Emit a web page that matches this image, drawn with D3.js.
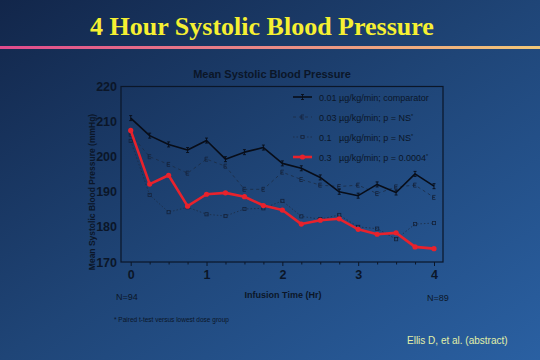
<!DOCTYPE html>
<html><head><meta charset="utf-8">
<script src="https://cdn.jsdelivr.net/npm/d3@7"></script>
<style>html,body{margin:0;padding:0;overflow:hidden;}svg{display:block;}</style>
</head><body>
<script>
const times = [0, 0.25, 0.5, 0.75, 1, 1.25, 1.5, 1.75, 2, 2.25, 2.5, 2.75, 3, 3.25, 3.5, 3.75, 4];
const comparator = [211, 206, 203.5, 201.9, 204.6, 199.3, 201.3, 202.6, 198.1, 196.7, 194.1, 190, 188.9, 192.1, 189.8, 195.1, 191.6];
const dose003 = [206.3, 200, 197.8, 195.3, 199.3, 197.3, 190.7, 190.7, 195.6, 193.5, 191.9, 191.5, 191.9, 189.5, 191.4, 191.9, 188.4];
const dose01 = [204.5, 189.1, 184.2, 185.6, 183.6, 183.1, 185.1, 185.3, 187.4, 183, 182.2, 183.4, 180, 179.5, 176.5, 180.8, 181.1];
const dose03 = [207.5, 192.2, 194.7, 185.9, 189.3, 189.7, 188.6, 186.1, 184.8, 180.8, 181.9, 182.3, 179.3, 177.9, 178.3, 174.3, 173.8];
const yTicks = [170, 180, 190, 200, 210, 220];
const xTicks = [0, 1, 2, 3, 4];
const legendLabels = ["0.01 µg/kg/min; comparator", "0.03 µg/kg/min; p = NS", "0.1   µg/kg/min; p = NS", "0.3   µg/kg/min; p = 0.0004"];

const W = 540, H = 360;
const svg = d3.select("body").append("svg").attr("width", W).attr("height", H);
const defs = svg.append("defs");
const bg = defs.append("linearGradient").attr("id", "bg").attr("x1", "0").attr("y1", "0").attr("x2", "1").attr("y2", "1");
bg.append("stop").attr("offset", "0").attr("stop-color", "#12264a");
bg.append("stop").attr("offset", "0.5").attr("stop-color", "#1f4577");
bg.append("stop").attr("offset", "1").attr("stop-color", "#2a60a2");
const rule = defs.append("linearGradient").attr("id", "rule");
rule.append("stop").attr("offset", "0").attr("stop-color", "#e04a8c");
rule.append("stop").attr("offset", "0.5").attr("stop-color", "#ea8a86");
rule.append("stop").attr("offset", "1").attr("stop-color", "#f2c878");

svg.append("rect").attr("width", W).attr("height", H).attr("fill", "url(#bg)");
svg.append("text").attr("x", 262).attr("y", 35).attr("text-anchor", "middle")
  .attr("font-family", "Liberation Serif").attr("font-weight", "bold").attr("font-size", 26)
  .attr("fill", "#f6f032").text("4 Hour Systolic Blood Pressure");
svg.append("rect").attr("x", 0).attr("y", 46).attr("width", W).attr("height", 3).attr("fill", "url(#rule)");

const ink = "#0b1628";
const x = d3.scaleLinear().domain([0, 4]).range([130.7, 434]);
const y = d3.scaleLinear().domain([170, 220]).range([262, 86.5]);
const L = 121, R = 443, T = 86.5, B = 262;

svg.append("text").attr("x", 272).attr("y", 78).attr("text-anchor", "middle")
  .attr("font-family", "Liberation Sans").attr("font-weight", "bold").attr("font-size", 11)
  .attr("fill", ink).text("Mean Systolic Blood Pressure");

// frame
svg.append("rect").attr("x", L).attr("y", T).attr("width", R - L).attr("height", B - T)
  .attr("fill", "none").attr("stroke", ink).attr("stroke-width", 1.2);

// y axis
const yAxis = d3.axisLeft(y).tickValues(yTicks).tickSize(0).tickPadding(4);
const gy = svg.append("g").attr("transform", `translate(${L},0)`).call(yAxis);
gy.select(".domain").remove();
gy.selectAll("text").attr("font-family", "Liberation Sans").attr("font-weight", "bold")
  .attr("font-size", 12.5).attr("fill", ink);

// x axis
const xAxis = d3.axisBottom(x).tickValues(xTicks).tickSize(4).tickPadding(4).tickFormat(d3.format("d"));
const gx = svg.append("g").attr("transform", `translate(0,${B})`).call(xAxis);
gx.select(".domain").remove();
gx.selectAll("line").attr("stroke", ink);
gx.selectAll("text").attr("font-family", "Liberation Sans").attr("font-weight", "bold")
  .attr("font-size", 12.5).attr("fill", ink);
const xMinor = d3.axisBottom(x).tickValues(times.filter(t => !xTicks.includes(t))).tickSize(2.5).tickFormat("");
const gxm = svg.append("g").attr("transform", `translate(0,${B})`).call(xMinor);
gxm.select(".domain").remove();
gxm.selectAll("line").attr("stroke", ink);

svg.append("text").attr("transform", "translate(95,192) rotate(-90)").attr("text-anchor", "middle")
  .attr("font-family", "Liberation Sans").attr("font-weight", "bold").attr("font-size", 8.5)
  .attr("fill", ink).text("Mean Systolic Blood Pressure (mmHg)");
svg.append("text").attr("x", 283).attr("y", 298).attr("text-anchor", "middle")
  .attr("font-family", "Liberation Sans").attr("font-weight", "bold").attr("font-size", 9)
  .attr("fill", ink).text("Infusion Time (Hr)");
svg.append("text").attr("x", 116).attr("y", 300)
  .attr("font-family", "Liberation Sans").attr("font-size", 9).attr("fill", ink).text("N=94");
svg.append("text").attr("x", 427).attr("y", 301)
  .attr("font-family", "Liberation Sans").attr("font-size", 9).attr("fill", ink).text("N=89");
svg.append("text").attr("x", 114).attr("y", 322)
  .attr("font-family", "Liberation Sans").attr("font-size", 6.5).attr("fill", ink)
  .text("* Paired t-test versus lowest dose group");
svg.append("text").attr("x", 407).attr("y", 344)
  .attr("font-family", "Liberation Sans").attr("font-size", 10).attr("fill", "#e2f0a8")
  .text("Ellis D, et al. (abstract)");

const line = d3.line().x((d, i) => x(times[i])).y(d => y(d));

const series = [
  {vals: dose01, stroke: "#1c2c44", width: 0.8, dash: "1.5,2", marker: "sq"},
  {vals: dose003, stroke: "#1c2c44", width: 0.8, dash: "3,3", marker: "e"},
  {vals: comparator, stroke: "#080d18", width: 1.6, dash: null, marker: "i"},
  {vals: dose03, stroke: "#e8222c", width: 2.6, dash: null, marker: "dot"}
];

function drawMarker(g, type, cx, cy) {
  if (type === "sq") {
    g.append("rect").attr("x", cx - 1.6).attr("y", cy - 1.6).attr("width", 3.2).attr("height", 3.2)
      .attr("fill", "none").attr("stroke", "#14223a").attr("stroke-width", 0.8);
  } else if (type === "e") {
    g.append("path").attr("d", `M${cx+1.5},${cy-2}H${cx-1.5}V${cy+2}H${cx+1.5}M${cx-1.5},${cy}H${cx+1}`)
      .attr("fill", "none").attr("stroke", "#14223a").attr("stroke-width", 0.8);
  } else if (type === "i") {
    g.append("path").attr("d", `M${cx},${cy-2.5}V${cy+2.5}M${cx-1.5},${cy-2.5}H${cx+1.5}M${cx-1.5},${cy+2.5}H${cx+1.5}`)
      .attr("fill", "none").attr("stroke", "#080d18").attr("stroke-width", 0.9);
  } else {
    g.append("circle").attr("cx", cx).attr("cy", cy).attr("r", 2.6).attr("fill", "#e8222c");
  }
}

series.forEach(s => {
  const g = svg.append("g");
  g.append("path").datum(s.vals).attr("d", line).attr("fill", "none")
    .attr("stroke", s.stroke).attr("stroke-width", s.width)
    .attr("stroke-dasharray", s.dash).attr("stroke-linejoin", "round");
  s.vals.forEach((v, i) => drawMarker(g, s.marker, x(times[i]), y(v)));
});

// legend
const legendOrder = [2, 1, 0, 3];
legendOrder.forEach((si, k) => {
  const s = series[si];
  const ly = 97 + k * 20;
  const g = svg.append("g");
  g.append("line").attr("x1", 293).attr("x2", 312).attr("y1", ly).attr("y2", ly)
    .attr("stroke", s.stroke).attr("stroke-width", s.width).attr("stroke-dasharray", s.dash);
  drawMarker(g, s.marker, 302.5, ly);
  const t = g.append("text").attr("x", 319).attr("y", ly + 3.5)
    .attr("font-family", "Liberation Sans").attr("font-size", 9).attr("fill", ink)
    .attr("xml:space", "preserve").style("white-space", "pre").text(legendLabels[k]);
  if (k > 0) t.append("tspan").attr("font-size", 5.5).attr("dy", -3).text("*");
});
</script>
</body></html>
